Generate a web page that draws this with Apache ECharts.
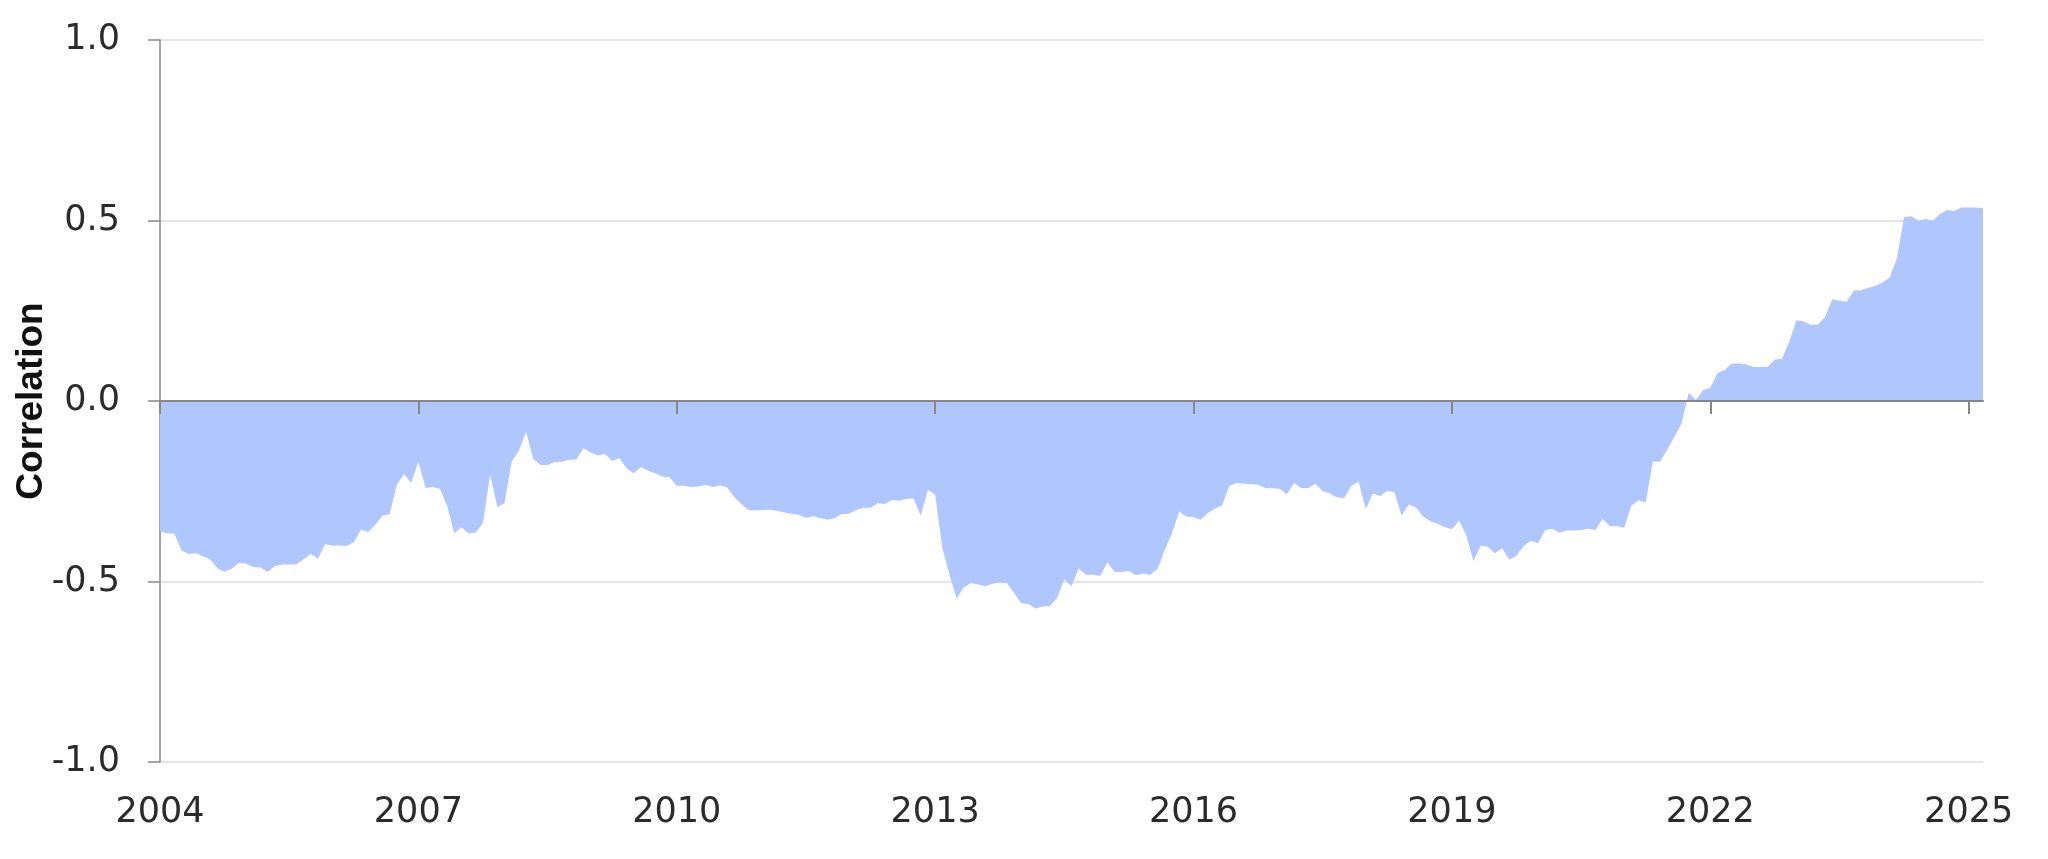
<!DOCTYPE html>
<html>
<head>
<meta charset="utf-8">
<script src="https://cdn.jsdelivr.net/npm/echarts@6/dist/echarts.min.js"></script>
<style>
  html, body { margin: 0; padding: 0; background: #fff; }
  #chart { width: 2048px; height: 859px; }
</style>
</head>
<body>
<div id="chart"></div>
<script>
// Monthly series, first point January 2004
var START_YEAR = 2004;
var START_MONTH = 1;

var correlation = [
  -0.361, -0.366, -0.368, -0.414, -0.424, -0.422, -0.430, -0.439, -0.464, -0.473, -0.465, -0.448,
  -0.451, -0.460, -0.461, -0.473, -0.458, -0.453, -0.453, -0.452, -0.439, -0.423, -0.437, -0.397,
  -0.400, -0.400, -0.402, -0.391, -0.356, -0.363, -0.343, -0.317, -0.314, -0.232, -0.202, -0.227,
  -0.168, -0.241, -0.238, -0.243, -0.290, -0.366, -0.350, -0.367, -0.364, -0.338, -0.204, -0.294,
  -0.283, -0.168, -0.138, -0.085, -0.160, -0.177, -0.177, -0.169, -0.168, -0.163, -0.162, -0.131,
  -0.143, -0.151, -0.146, -0.166, -0.158, -0.186, -0.200, -0.183, -0.193, -0.200, -0.210, -0.211,
  -0.235, -0.235, -0.238, -0.237, -0.232, -0.238, -0.234, -0.239, -0.266, -0.285, -0.302, -0.303,
  -0.302, -0.301, -0.304, -0.309, -0.312, -0.315, -0.324, -0.319, -0.324, -0.329, -0.324, -0.313,
  -0.312, -0.302, -0.296, -0.296, -0.283, -0.285, -0.274, -0.276, -0.271, -0.270, -0.318, -0.246,
  -0.260, -0.407, -0.481, -0.547, -0.516, -0.504, -0.508, -0.513, -0.506, -0.503, -0.504, -0.532,
  -0.560, -0.562, -0.575, -0.569, -0.568, -0.545, -0.494, -0.513, -0.463, -0.481, -0.481, -0.485,
  -0.447, -0.474, -0.474, -0.471, -0.483, -0.478, -0.481, -0.465, -0.412, -0.366, -0.306, -0.320,
  -0.321, -0.329, -0.310, -0.298, -0.289, -0.235, -0.227, -0.229, -0.230, -0.232, -0.241, -0.242,
  -0.243, -0.258, -0.227, -0.241, -0.241, -0.229, -0.250, -0.256, -0.267, -0.269, -0.235, -0.223,
  -0.300, -0.256, -0.263, -0.249, -0.253, -0.318, -0.287, -0.295, -0.320, -0.333, -0.340, -0.349,
  -0.355, -0.331, -0.372, -0.443, -0.401, -0.404, -0.422, -0.408, -0.440, -0.429, -0.402, -0.387,
  -0.394, -0.357, -0.354, -0.365, -0.359, -0.359, -0.357, -0.354, -0.357, -0.327, -0.346, -0.347,
  -0.351, -0.290, -0.275, -0.281, -0.168, -0.168, -0.135, -0.099, -0.062, 0.023, 0.003, 0.030,
  0.037, 0.077, 0.086, 0.104, 0.104, 0.102, 0.094, 0.094, 0.094, 0.115, 0.117, 0.164,
  0.224, 0.220, 0.211, 0.212, 0.233, 0.282, 0.278, 0.275, 0.306, 0.307, 0.313, 0.319,
  0.328, 0.342, 0.395, 0.509, 0.512, 0.500, 0.504, 0.499, 0.518, 0.529, 0.526, 0.536,
  0.536, 0.536, 0.534
];

var yearTicks = [2004, 2007, 2010, 2013, 2016, 2019, 2022, 2025];
var yTicks = [-1.0, -0.5, 0.0, 0.5, 1.0];
var yTitle = 'Correlation';

// time of each monthly point as a decimal year
var times = correlation.map(function (v, i) {
  return START_YEAR + (START_MONTH - 1 + i) / 12;
});
var seriesData = correlation.map(function (v, i) { return [times[i], v]; });
var X_MIN = times[0];
var X_MAX = times[times.length - 1];

var LABEL_FONT = 'DejaVu Sans';
var chart = echarts.init(document.getElementById('chart'), null, { renderer: 'canvas' });

chart.setOption({
  animation: false,
  backgroundColor: '#ffffff',
  grid: { left: 160, right: 65, top: 40, bottom: 97, containLabel: false, outerBoundsMode: 'none' },
  xAxis: [
    {
      type: 'value',
      min: X_MIN,
      max: X_MAX,
      z: 10,
      axisLine: { show: true, onZero: true, lineStyle: { color: '#878787', width: 2 } },
      axisTick: { show: true, length: 13, customValues: yearTicks, lineStyle: { color: '#878787', width: 2 } },
      axisLabel: { show: false },
      splitLine: { show: false }
    },
    {
      type: 'value',
      position: 'bottom',
      min: X_MIN,
      max: X_MAX,
      axisLine: { show: false, onZero: false },
      axisTick: { show: false },
      axisLabel: {
        show: true,
        customValues: yearTicks,
        margin: 33,
        fontSize: 35,
        fontFamily: LABEL_FONT,
        color: '#2b2b2b',
        formatter: function (v) { return String(Math.round(v)); }
      },
      splitLine: { show: false }
    }
  ],
  yAxis: {
    type: 'value',
    min: yTicks[0],
    max: yTicks[yTicks.length - 1],
    interval: 0.5,
    name: yTitle,
    nameLocation: 'middle',
    nameGap: 110,
    nameMoveOverlap: false,
    nameTextStyle: { fontFamily: 'Liberation Sans', fontWeight: 'bold', fontSize: 37, color: '#111111' },
    axisLine: { show: true, onZero: false, lineStyle: { color: '#878787', width: 1.5 } },
    axisTick: { show: true, length: 12, lineStyle: { color: '#878787', width: 1.5 } },
    axisLabel: {
      margin: 40,
      fontSize: 35,
      fontFamily: LABEL_FONT,
      color: '#2b2b2b',
      formatter: function (v) { return v.toFixed(1); }
    },
    splitLine: { show: true, lineStyle: { color: '#dddddd', width: 1.5 } }
  },
  series: [
    {
      type: 'line',
      xAxisIndex: 0,
      data: seriesData,
      symbol: 'none',
      smooth: false,
      lineStyle: { width: 0, opacity: 0 },
      areaStyle: { color: '#B0C7FE', opacity: 1 },
      z: 2
    }
  ]
});
</script>
</body>
</html>
